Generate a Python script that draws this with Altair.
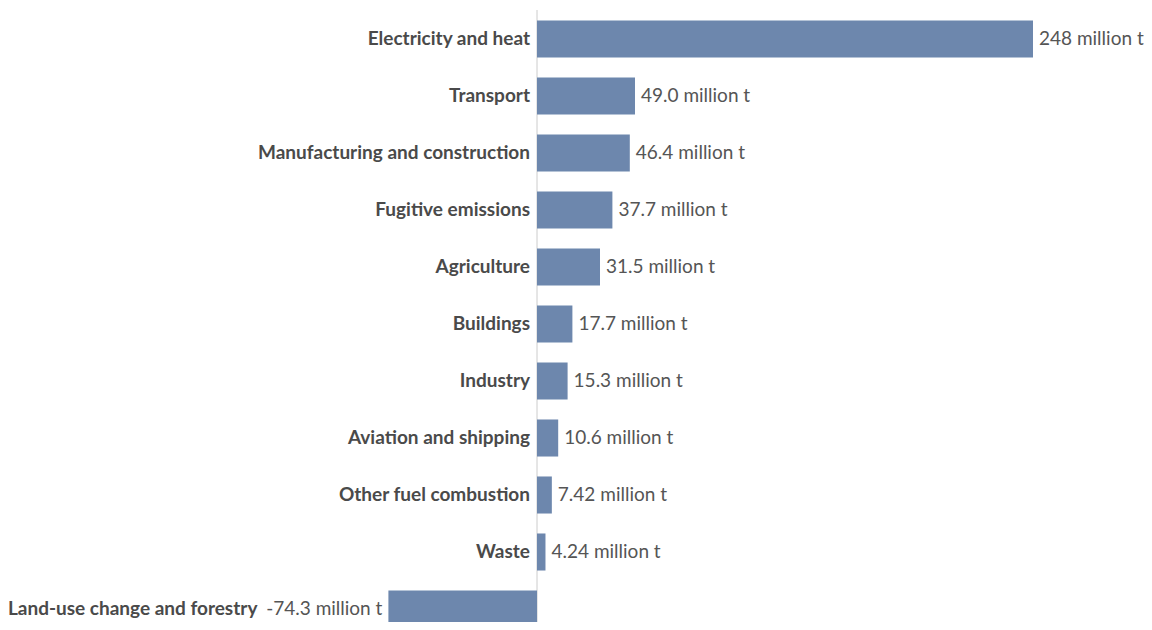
import altair as alt
import pandas as pd

categories = [
    "Electricity and heat",
    "Transport",
    "Manufacturing and construction",
    "Fugitive emissions",
    "Agriculture",
    "Buildings",
    "Industry",
    "Aviation and shipping",
    "Other fuel combustion",
    "Waste",
    "Land-use change and forestry",
]
values = [248, 49.0, 46.4, 37.7, 31.5, 17.7, 15.3, 10.6, 7.42, 4.24, -74.3]
value_labels = [
    "248 million t",
    "49.0 million t",
    "46.4 million t",
    "37.7 million t",
    "31.5 million t",
    "17.7 million t",
    "15.3 million t",
    "10.6 million t",
    "7.42 million t",
    "4.24 million t",
    "-74.3 million t",
]

df = pd.DataFrame({"category": categories, "value": values, "label": value_labels})

W, H = 1136, 614
FONT = "Lato"
FS = 19
BAR = "#6D87AD"
TXT = "#555555"

x_scale = alt.Scale(domain=[-264.5, 303.5], nice=False, zero=False)
y_scale = alt.Scale(domain=categories, range=[2.5, 629.5], paddingInner=0.35, paddingOuter=0.175)

base = alt.Chart(df).encode(
    y=alt.Y("category:N", scale=y_scale, axis=None, sort=categories)
)

bars = base.mark_bar(color=BAR).encode(
    x=alt.X("value:Q", scale=x_scale, axis=None),
    x2=alt.datum(0),
)

rule = alt.Chart(pd.DataFrame({"x": [0]})).mark_rule(color="#cccccc", strokeWidth=1).encode(
    x=alt.X("x:Q", scale=x_scale, axis=None),
    y=alt.value(2),
    y2=alt.value(H),
)

pos_vals = base.transform_filter("datum.value >= 0").mark_text(
    align="left", baseline="middle", dx=6, font=FONT, fontSize=FS, color=TXT
).encode(x=alt.X("value:Q", scale=x_scale, axis=None), text="label:N")

neg_vals = base.transform_filter("datum.value < 0").mark_text(
    align="right", baseline="middle", dx=-6, font=FONT, fontSize=FS, color=TXT
).encode(x=alt.X("value:Q", scale=x_scale, axis=None), text="label:N")

pos_cats = base.transform_filter("datum.value >= 0").transform_calculate(zero="0").mark_text(
    align="right", baseline="middle", dx=-7, font=FONT, fontSize=FS, fontWeight="bold", color="#4a4a4a"
).encode(x=alt.X("zero:Q", scale=x_scale, axis=None), text="category:N")

neg_cats = base.transform_filter("datum.value < 0").mark_text(
    align="right", baseline="middle", dx=-131, font=FONT, fontSize=FS, fontWeight="bold", color="#4a4a4a"
).encode(x=alt.X("value:Q", scale=x_scale, axis=None), text="category:N")

chart = alt.layer(rule, bars, pos_vals, neg_vals, pos_cats, neg_cats).properties(
    width=W,
    height=H,
    autosize=alt.AutoSizeParams(type="none"),
    padding=0,
).configure_view(stroke=None)

chart.save("out.html", embed_options={"renderer": "svg", "actions": False})
